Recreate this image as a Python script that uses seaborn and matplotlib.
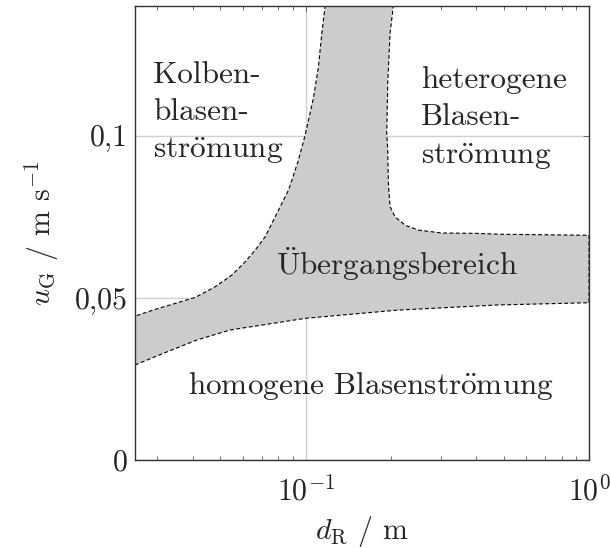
import matplotlib
matplotlib.use("Agg")
import matplotlib.pyplot as plt
import seaborn as sns
import pandas as pd

# Boundary curves of the flow regime map (d_R in m, u_G in m/s)
lower_d = [0.025, 0.0315, 0.0413, 0.0542, 0.1, 0.2098, 0.4725, 1.0]
lower_u = [0.0293, 0.0329, 0.0370, 0.0401, 0.0437, 0.0462, 0.0478, 0.0485]

left_d = [0.025, 0.02944, 0.03464, 0.04075, 0.04795, 0.0549, 0.06118,
          0.06635, 0.07197, 0.07806, 0.08241, 0.08696, 0.0894, 0.09431,
          0.09959, 0.10653, 0.11094, 0.11404, 0.11716]
left_u = [0.04438, 0.04644, 0.04829, 0.05014, 0.05341, 0.05701, 0.06111,
          0.06471, 0.06881, 0.07498, 0.07911, 0.0832, 0.08629, 0.09245,
          0.10015, 0.11156, 0.1212, 0.13149, 0.14]

right_d = [0.204, 0.1986, 0.1949, 0.1933, 0.1949, 0.1959, 0.1986, 0.2068,
           0.2244, 0.25, 0.3022, 0.3962, 0.4971, 1.0]
right_u = [0.14, 0.1316, 0.1162, 0.1008, 0.0955, 0.0853, 0.0781, 0.075,
           0.0724, 0.0709, 0.07, 0.0699, 0.0696, 0.0693]

x_ticks = [0.1, 1.0]
x_ticklabels = [r"$10^{\mathregular{-1}}$", r"$10^{\mathregular{0}}$"]
y_ticks = [0.0, 0.05, 0.1]
y_ticklabels = ["0", "0,05", "0,1"]

OE = r"$\ddot{\mathrm{o}}$"
UE = r"$\ddot{\mathrm{U}}$"
regions = ["Kolben-\nblasen-\nstr" + OE + "mung",
           "heterogene\nBlasen-\nstr" + OE + "mung",
           UE + "bergangsbereich",
           "homogene Blasenstr" + OE + "mung"]
region_d = [0.0289, 0.2548, 0.2098, 0.170]
region_u = [0.0930, 0.0914, 0.0570, 0.0203]
region_ha = ["left", "left", "center", "center"]

sns.set_theme(style="white")
plt.rcParams["font.family"] = ["cmr10", "DejaVu Serif"]
plt.rcParams["mathtext.fontset"] = "cm"
plt.rcParams["mathtext.rm"] = "cmr10"
plt.rcParams["axes.formatter.use_mathtext"] = True

fig = plt.figure(figsize=(6.1, 5.48), dpi=100)
ax = fig.add_axes([0.2213, 0.1606, 0.7443, 0.8284])

dash = (0, (3.5, 2.2))

# transition region: upper-left branch, top edge, upper-right branch,
# right edge, lower branch back to the left edge
poly_d = left_d + right_d + lower_d[::-1]
poly_u = left_u + right_u + lower_u[::-1]
ax.fill(poly_d, poly_u, facecolor="#cccccc", edgecolor="none", zorder=2)

# outline without the lower branch (drawn separately below)
edge_d = [lower_d[0]] + left_d + right_d + [lower_d[-1]]
edge_u = [lower_u[0]] + left_u + right_u + [lower_u[-1]]
ax.plot(edge_d, edge_u, color="black", lw=0.8, ls=dash, zorder=3)

df = pd.DataFrame({"d": lower_d, "u": lower_u})
sns.lineplot(data=df, x="d", y="u", ax=ax, color="black", lw=0.8,
             linestyle=dash, zorder=3)

ax.set_xscale("log")
ax.set_xlim(0.025, 1.0)
ax.set_ylim(0, 0.14)

ax.set_xticks(x_ticks)
ax.set_xticklabels(x_ticklabels)
ax.set_yticks(y_ticks)
ax.set_yticklabels(y_ticklabels)
ax.tick_params(axis="both", which="major", direction="in", length=4,
               width=0.6, color="#555555", labelsize=21.5,
               top=True, right=True)
ax.tick_params(axis="x", which="major", pad=11)
ax.tick_params(axis="y", which="major", pad=5)
ax.tick_params(axis="x", which="minor", direction="in", length=3,
               width=0.6, color="#555555", top=True, bottom=True)
ax.grid(True, which="major", color="#d0d0d0", lw=1.0, zorder=0)
ax.set_axisbelow(True)
for s in ax.spines.values():
    s.set_color("#333333")
    s.set_linewidth(1.0)
    s.set_zorder(5)

for txt, d, u, ha in zip(regions, region_d, region_u, region_ha):
    ax.text(d, u, txt, fontsize=22.5, ha=ha, va="baseline",
            linespacing=1.42, zorder=4)

ax.set_xlabel(r"$d_{\mathrm{R}}$ / m", fontsize=21.5, labelpad=6)
ax.set_ylabel(r"$u_{\mathrm{G}}$ / m s$^{\mathregular{-1}}$", fontsize=21.5,
              labelpad=10)

fig.savefig("out.png", dpi=100)
